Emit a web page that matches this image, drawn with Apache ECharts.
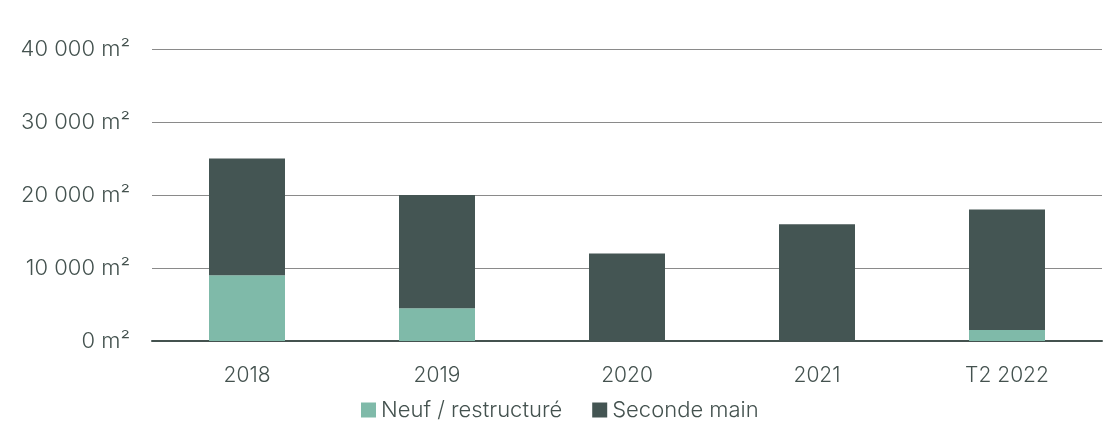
<!DOCTYPE html>
<html>
<head>
<meta charset="utf-8">
<script src="https://cdn.jsdelivr.net/npm/echarts@6/dist/echarts.min.js"></script>
<style>
html,body{margin:0;padding:0;background:#fff;}
#chart{width:1104px;height:424px;}
</style>
</head>
<body>
<div id="chart"></div>
<script>
const categories = ['2018', '2019', '2020', '2021', 'T2 2022'];
const neufValues = [9000, 4500, 0, 0, 1500];
const secondeValues = [16000, 15500, 12000, 16000, 16500];
const seriesNames = ['Neuf / restructuré', 'Seconde main'];

const textColor = '#44524f';
const ff = 'Inter, "Noto Sans", sans-serif';
const chart = echarts.init(document.getElementById('chart'));
function fmt(v) {
  return String(v).replace(/\B(?=(\d{3})+(?!\d))/g, ' ') + ' m²';
}
chart.setOption({
  animation: false,
  textStyle: { fontFamily: ff },
  grid: { left: 152, right: 2, top: 49, bottom: 83 },
  legend: {
    top: 394,
    left: 356,
    itemWidth: 15,
    itemHeight: 15,
    itemGap: 30,
    itemTextGap: 7,
    icon: 'rect',
    textStyle: { color: textColor, fontSize: 22, fontWeight: 300, fontFamily: ff },
    data: seriesNames
  },
  xAxis: {
    type: 'category',
    data: categories,
    axisLine: { lineStyle: { color: '#44524f', width: 2 } },
    axisTick: { show: false },
    axisLabel: { color: textColor, fontSize: 21, fontWeight: 300, margin: 24 }
  },
  yAxis: {
    type: 'value',
    min: 0,
    max: 40000,
    interval: 10000,
    axisLine: { show: false },
    axisTick: { show: false },
    axisLabel: { color: textColor, fontSize: 22, fontWeight: 300, margin: 22, formatter: fmt },
    splitLine: { lineStyle: { color: '#8a8a8a', width: 1 } }
  },
  series: [
    {
      name: seriesNames[0],
      type: 'bar',
      stack: 'total',
      data: neufValues,
      barWidth: '40%',
      itemStyle: { color: '#7fbaa9' }
    },
    {
      name: seriesNames[1],
      type: 'bar',
      stack: 'total',
      data: secondeValues,
      barWidth: '40%',
      itemStyle: { color: '#445553' }
    }
  ]
});
</script>
</body>
</html>
